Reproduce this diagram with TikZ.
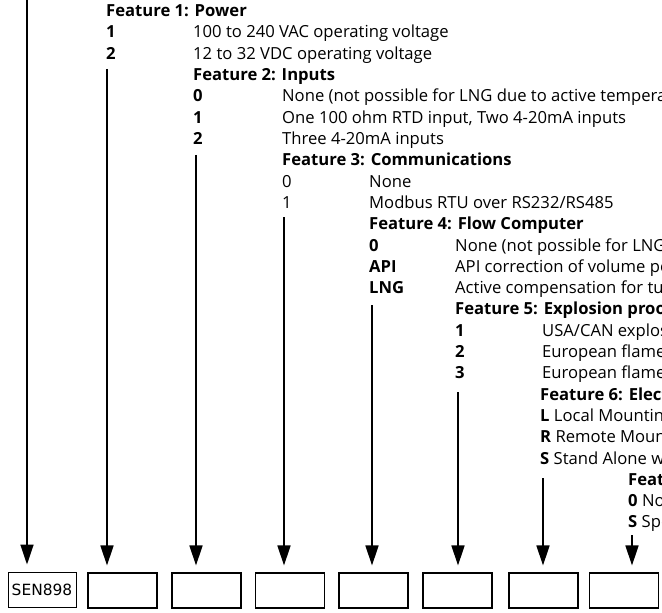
\documentclass[tikz,border=0pt]{standalone}
\usepackage{fontspec}
\setmainfont{Open Sans}
\newfontfamily\boxfont{DejaVu Sans}
\usetikzlibrary{arrows.meta}
\tikzset{
  lbl/.style={anchor=base west, inner sep=0pt, font=\fontsize{16.7}{20}\selectfont},
  code/.style={anchor=base west, inner sep=0pt, font=\fontsize{16.7}{20}\selectfont\bfseries},
  codebox/.style={draw, line width=1.1bp, minimum width=69bp, minimum height=35bp, inner sep=0pt},
  feed/.style={line width=1.7bp, -{Triangle[width=13bp,length=20bp]}, shorten >=7bp},
}
\begin{document}
\begin{tikzpicture}[x=1bp,y=-1bp]
\useasboundingbox (0,0) rectangle (662,613);
\fill[white] (0,0) rectangle (662,613);
\clip (0,0) rectangle (662,613);
% Feature 1
\node[code] (f1h) at (106,16.7) {Feature 1: Power};
\node[code] (f1c1) at (106,38.0) {1};
\node[lbl]  (f1d1) at (193,38.0) {100 to 240 VAC operating voltage};
\node[code] (f1c2) at (106,59.3) {2};
\node[lbl]  (f1d2) at (193,59.3) {12 to 32 VDC operating voltage};
% Feature 2
\node[code] (f2h) at (193,80.6) {Feature 2: Inputs};
\node[code] (f2c0) at (193,101.9) {0};
\node[lbl]  (f2d0) at (282,101.9) {None (not possible for LNG due to active temperature};
\node[code] (f2c1) at (193,123.2) {1};
\node[lbl]  (f2d1) at (282,123.2) {One 100 ohm RTD input, Two 4-20mA inputs};
\node[code] (f2c2) at (193,144.5) {2};
\node[lbl]  (f2d2) at (282,144.5) {Three 4-20mA inputs};
% Feature 3
\node[code] (f3h) at (282,165.8) {Feature 3: Communications};
\node[lbl]  (f3c0) at (282,187.1) {0};
\node[lbl]  (f3d0) at (369,187.1) {None};
\node[lbl]  (f3c1) at (282,208.4) {1};
\node[lbl]  (f3d1) at (369,208.4) {Modbus RTU over RS232/RS485};
% Feature 4
\node[code] (f4h) at (369,229.7) {Feature 4: Flow Computer};
\node[code] (f4c0) at (369,251.0) {0};
\node[lbl]  (f4d0) at (455,251.0) {None (not possible for LNG)};
\node[code] (f4c1) at (369,272.3) {API};
\node[lbl]  (f4d1) at (455,272.3) {API correction of volume per};
\node[code] (f4c2) at (369,293.6) {LNG};
\node[lbl]  (f4d2) at (455,293.6) {Active compensation for turbine};
% Feature 5
\node[code] (f5h) at (455,314.9) {Feature 5: Explosion proof};
\node[code] (f5c1) at (455,336.2) {1};
\node[lbl]  (f5d1) at (542,336.2) {USA/CAN explosion proof};
\node[code] (f5c2) at (455,357.5) {2};
\node[lbl]  (f5d2) at (542,357.5) {European flameproof};
\node[code] (f5c3) at (455,378.8) {3};
\node[lbl]  (f5d3) at (542,378.8) {European flameproof};
% Feature 6
\node[code] (f6h) at (540,400.1) {Feature 6: Electronics};
\node[lbl]  (f6l) at (540,421.4) {\textbf{L} Local Mounting};
\node[lbl]  (f6r) at (540,442.7) {\textbf{R} Remote Mounting};
\node[lbl]  (f6s) at (540,464.0) {\textbf{S} Stand Alone with};
% Feature 7
\node[code] (f7h) at (628,485.3) {Feature 7};
\node[lbl]  (f70) at (628,506.6) {\textbf{0} None};
\node[lbl]  (f7s) at (628,527.9) {\textbf{S} Special};
% boxes
\node[codebox, minimum width=68bp, line width=0.9bp, font=\boxfont\fontsize{15.5}{18}\selectfont] (b1) at (42,589.5) {SEN898};
\node[codebox] (b2) at (122.5,590.5) {};
\node[codebox] (b3) at (206.5,590.5) {};
\node[codebox] (b4) at (290,590.5) {};
\node[codebox] (b5) at (373.5,590.5) {};
\node[codebox] (b6) at (457.5,590.5) {};
\node[codebox] (b7) at (543.5,590.5) {};
\node[codebox] (b8) at (624,590.5) {};
% arrow starts
\coordinate (a1) at (27,0);
\coordinate (a2) at (107,69);
\coordinate (a3) at (196,155);
\coordinate (a4) at (284,217);
\coordinate (a5) at (372,305);
\coordinate (a6) at (458,392);
\coordinate (a7) at (543,478);
\coordinate (a8) at (632,535);
\draw[feed] (a1) -- (a1 |- b1.north);
\draw[feed] (a2) -- (a2 |- b2.north);
\draw[feed] (a3) -- (a3 |- b3.north);
\draw[feed] (a4) -- (a4 |- b4.north);
\draw[feed] (a5) -- (a5 |- b5.north);
\draw[feed] (a6) -- (a6 |- b6.north);
\draw[feed] (a7) -- (a7 |- b7.north);
\draw[feed] (a8) -- (a8 |- b8.north);
\end{tikzpicture}
\end{document}
